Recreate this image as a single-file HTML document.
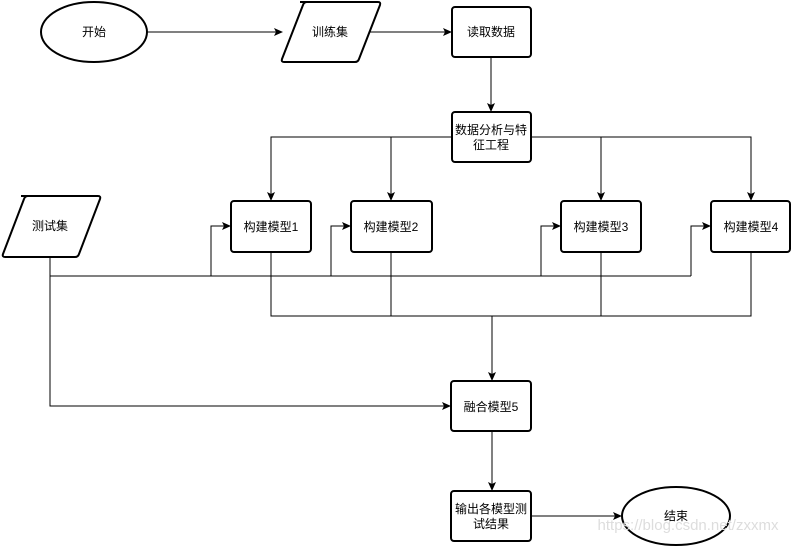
<!DOCTYPE html>
<html><head><meta charset="utf-8"><style>
body{margin:0;background:#fff}
svg text{font-family:"Liberation Sans","Noto Sans CJK SC",sans-serif;font-size:12px;fill:#000}
</style></head><body>
<svg width="792" height="547" viewBox="0 0 792 547" xmlns="http://www.w3.org/2000/svg">
<defs><marker id="a" markerWidth="10" markerHeight="10" refX="8" refY="4" orient="auto" markerUnits="userSpaceOnUse"><path d="M0,0 L9,4 L0,8 L2,4 Z" fill="#000"/></marker></defs>
<g fill="none" stroke="#000" stroke-width="1">
<line x1="147" y1="32" x2="282" y2="32" marker-end="url(#a)"/>
<line x1="369" y1="32" x2="451" y2="32" marker-end="url(#a)"/>
<line x1="491" y1="57" x2="491" y2="111" marker-end="url(#a)"/>
<polyline points="452,137 271,137 271,200" marker-end="url(#a)"/>
<line x1="391" y1="137" x2="391" y2="200" marker-end="url(#a)"/>
<polyline points="531,137 751,137 751,200" marker-end="url(#a)"/>
<line x1="601" y1="137" x2="601" y2="200" marker-end="url(#a)"/>
<polyline points="50,257 50,406 450,406" marker-end="url(#a)"/>
<line x1="50" y1="276" x2="691" y2="276"/>
<polyline points="211,276 211,226 230,226" marker-end="url(#a)"/>
<polyline points="331,276 331,226 350,226" marker-end="url(#a)"/>
<polyline points="541,276 541,226 560,226" marker-end="url(#a)"/>
<polyline points="691,276 691,226 710,226" marker-end="url(#a)"/>
<polyline points="271,252 271,316 751,316 751,252"/>
<line x1="391" y1="252" x2="391" y2="316"/>
<line x1="601" y1="252" x2="601" y2="316"/>
<line x1="492" y1="316" x2="492" y2="380" marker-end="url(#a)"/>
<line x1="492" y1="431" x2="492" y2="490" marker-end="url(#a)"/>
<line x1="531" y1="516" x2="621" y2="516" marker-end="url(#a)"/>
</g>
<g fill="#fff" stroke="#000" stroke-width="2">
<ellipse cx="94" cy="32" rx="53" ry="30"/>
<path d="M300,2 L378,2 Q381,2 380,5 L359,59 Q358,62 355,62 L284,62 Q281,62 282,59 L303,5 Q304,2 307,2 Z"/>
<path d="M21,196 L98,196 Q101,196 100,199 L79,254 Q78,257 75,257 L5,257 Q2,257 3,254 L24,199 Q25,196 28,196 Z"/>
<rect x="452" y="7" width="79" height="50" rx="3"/>
<rect x="452" y="112" width="79" height="50" rx="3"/>
<rect x="231" y="201" width="80" height="51" rx="3"/>
<rect x="351" y="201" width="81" height="51" rx="3"/>
<rect x="561" y="201" width="80" height="51" rx="3"/>
<rect x="711" y="201" width="79" height="51" rx="3"/>
<rect x="451" y="381" width="80" height="50" rx="3"/>
<rect x="451" y="491" width="80" height="50" rx="3"/>
<ellipse cx="676" cy="516" rx="54" ry="29"/>
</g>
<g text-anchor="middle">
<text x="94" y="36">开始</text>
<text x="330" y="36">训练集</text>
<text x="491" y="36">读取数据</text>
<text x="491" y="134">数据分析与特</text>
<text x="491" y="149">征工程</text>
<text x="50" y="230">测试集</text>
<text x="271" y="231">构建模型1</text>
<text x="391" y="231">构建模型2</text>
<text x="601" y="231">构建模型3</text>
<text x="751" y="231">构建模型4</text>
<text x="491" y="411">融合模型5</text>
<text x="491" y="513">输出各模型测</text>
<text x="491" y="528">试结果</text>
<text x="676" y="520">结束</text>
<text x="688" y="530" style="fill:#ddd;font-size:15px">https://blog.csdn.net/zxxmx</text>
</g>
</svg>
</body></html>
